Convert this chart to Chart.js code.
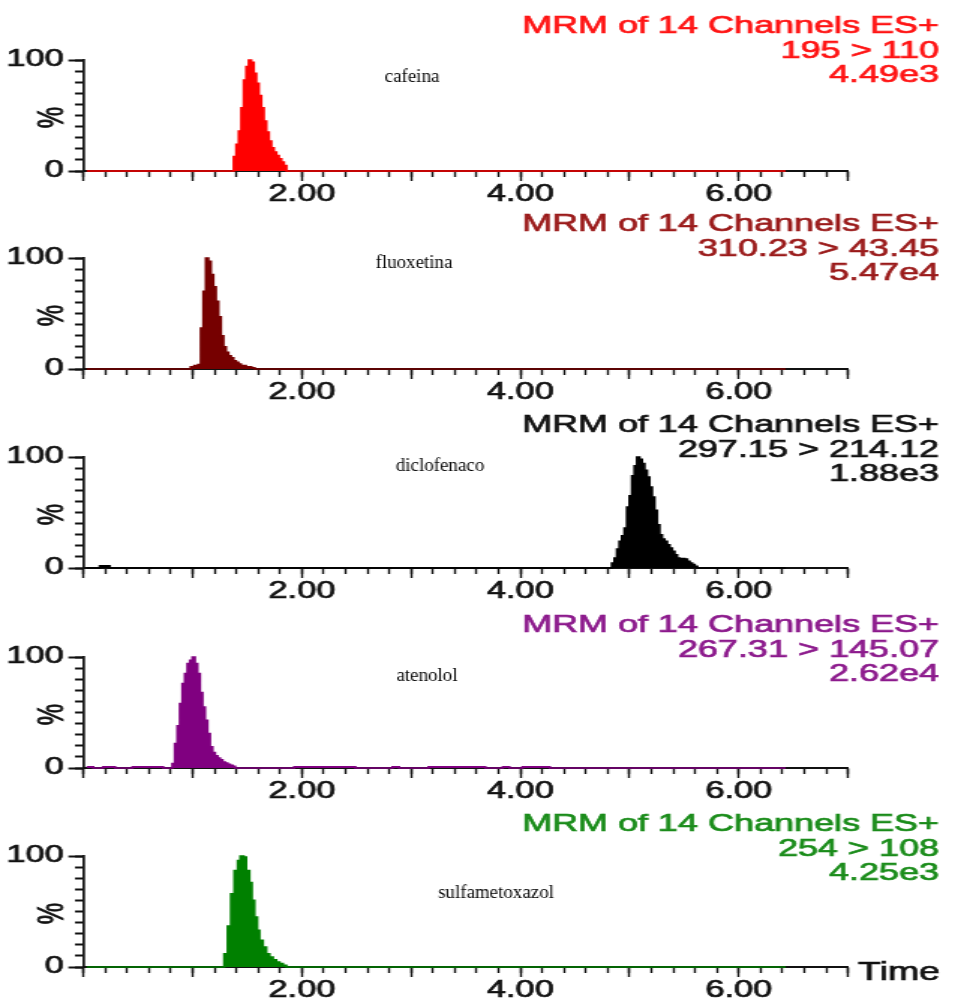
<!DOCTYPE html>
<html>
<head>
<meta charset="utf-8">
<script src="https://cdn.jsdelivr.net/npm/chart.js@4/dist/chart.umd.min.js"></script>
<style>
  body { margin: 0; background: #fff; }
  #wrap { position: relative; width: 955px; height: 1001px; overflow: hidden; }
  #wrap canvas { position: absolute; left: 0; }
</style>
</head>
<body>
<div id="wrap">
  <canvas id="c0"></canvas>
  <canvas id="c1"></canvas>
  <canvas id="c2"></canvas>
  <canvas id="c3"></canvas>
  <canvas id="c4"></canvas>
</div>
<script>
// chromatogram is horizontally stretched in the original, so draw narrow and stretch with css
const CSS_W = 955;
const BUF_W = 637;
const S = CSS_W / BUF_W;

const headerText = 'MRM of 14 Channels ES+';
const compounds = ['cafeina', 'fluoxetina', 'diclofenaco', 'atenolol', 'sulfametoxazol'];
const transitions = ['195 > 110', '310.23 > 43.45', '297.15 > 214.12', '267.31 > 145.07', '254 > 108'];
const intensities = ['4.49e3', '5.47e4', '1.88e3', '2.62e4', '4.25e3'];
const xTickLabels = [2, 4, 6];
const yTickLabels = [0, 100];

// time (min) / % values, stepped
const cafeinaTime = [0.03, 1.376, 1.399, 1.422, 1.445, 1.468, 1.491, 1.514, 1.537, 1.560, 1.583, 1.606, 1.629, 1.652, 1.675, 1.698, 1.721, 1.744, 1.767, 1.790, 1.813, 1.836, 1.859, 6.43];
const cafeinaPct  = [0, 13, 24, 36, 57, 82, 94, 100, 98, 88, 79, 68, 57, 45, 35, 27, 21, 17, 14, 11, 8, 5, 0, 0];

const fluoxetinaTime = [0.03, 0.982, 1.015, 1.050, 1.075, 1.098, 1.121, 1.144, 1.167, 1.190, 1.213, 1.236, 1.259, 1.282, 1.305, 1.328, 1.351, 1.374, 1.397, 1.420, 1.443, 1.488, 1.538, 1.568, 6.43];
const fluoxetinaPct  = [0, 2, 3, 4, 37, 70, 100, 97, 85, 74, 61, 47, 30, 20, 15, 12, 10, 7.5, 6, 4.5, 3, 2, 1, 0, 0];

const diclofenacoTime = [0.03, 0.15, 0.24, 4.838, 4.861, 4.884, 4.907, 4.930, 4.953, 4.976, 4.999, 5.022, 5.045, 5.068, 5.091, 5.114, 5.137, 5.160, 5.183, 5.206, 5.229, 5.252, 5.275, 5.298, 5.321, 5.344, 5.367, 5.390, 5.413, 5.436, 5.459, 5.482, 5.505, 5.528, 5.551, 5.574, 5.597, 5.620, 6.43];
const diclofenacoPct  = [0, 2, 0, 4.5, 9, 17, 24, 29, 36, 55, 65, 83, 92, 100, 98, 94, 88, 82, 73, 64, 52, 39, 30, 26, 24, 21, 18, 15, 12, 9, 8.5, 8.5, 8, 6, 4.5, 3, 1.5, 0, 0];

const atenololTime = [0.03, 0.09, 0.18, 0.29, 0.45, 0.73, 0.814, 0.837, 0.860, 0.883, 0.906, 0.929, 0.952, 0.975, 0.998, 1.021, 1.044, 1.067, 1.090, 1.113, 1.136, 1.159, 1.182, 1.205, 1.228, 1.251, 1.274, 1.297, 1.320, 1.343, 1.366, 1.389, 1.93, 2.49, 2.83, 2.89, 3.16, 3.68, 3.84, 3.90, 4.02, 4.27, 6.43];
const atenololPct  = [1, 0, 1, 0, 1, 0, 4, 22, 38, 58, 76, 85, 94, 97, 100, 94, 85, 68, 55, 43, 31, 19, 14, 11, 9, 7.5, 5.4, 4.5, 3.3, 2.4, 1.5, 0, 1, 0, 1, 0, 1, 0, 1, 0, 1, 0, 0];

const sulfaTime = [0.03, 1.289, 1.321, 1.351, 1.382, 1.413, 1.437, 1.468, 1.490, 1.520, 1.542, 1.566, 1.591, 1.612, 1.643, 1.674, 1.704, 1.735, 1.766, 1.796, 1.827, 1.858, 6.43];
const sulfaPct  = [0, 12, 37, 66, 87, 96, 100, 99, 87, 76, 60, 45, 33, 24, 18, 12, 9, 6.5, 4.5, 3, 1.5, 0, 0];

const seriesTimes = [cafeinaTime, fluoxetinaTime, diclofenacoTime, atenololTime, sulfaTime];
const seriesPcts = [cafeinaPct, fluoxetinaPct, diclofenacoPct, atenololPct, sulfaPct];
const fillColors = ['#ff0000', '#760000', '#000000', '#800080', '#008000'];
const textColors = ['#ff1414', '#9a1a1a', '#111111', '#8c1a8c', '#1a8c1a'];

// panel placement (css px)
const panelTops = [0, 198, 397, 597, 796];
const panelHeights = [210, 210, 210, 210, 205];
const nameX = [412, 414, 440, 427, 496];
const nameY = [77, 65, 69, 79, 97];
const headerY = [[33, 58, 82], [33, 58, 82], [35, 60, 84], [35, 60, 84], [35, 60, 84]];

const PLOT_TOP = 60, PLOT_BOTTOM = 171;
const LEFT = 83.4 / S, RIGHT = 848 / S;
const AX = '#111';
const sansFont = '"Liberation Sans", Arial, sans-serif';

// fill + thin stroke, the original lettering is a bit heavier
function heavyText(ctx, txt, x, y, color) {
    ctx.fillStyle = color;
    ctx.strokeStyle = color;
    ctx.lineWidth = 0.7;
    ctx.fillText(txt, x, y);
    ctx.strokeText(txt, x, y);
}

const panelText = {
    id: 'panelText',
    afterDraw(chart, args, opts) {
        const ctx = chart.ctx;
        const i = opts.index;
        ctx.save();
        ctx.font = '24px ' + sansFont;
        ctx.textAlign = 'right';
        ctx.textBaseline = 'alphabetic';
        const lines = [headerText, transitions[i], intensities[i]];
        for (let k = 0; k < lines.length; k++) {
            heavyText(ctx, lines[k], 939 / S, headerY[i][k], textColors[i]);
        }
        ctx.restore();

        // % axis label
        ctx.save();
        const a = chart.chartArea;
        ctx.translate(35, (a.top + a.bottom) / 2 + 2);
        ctx.rotate(-Math.PI / 2);
        ctx.font = '24px ' + sansFont;
        ctx.textAlign = 'center';
        ctx.textBaseline = 'middle';
        heavyText(ctx, '%', 0, 0, AX);
        ctx.restore();

        // compound name (not stretched in the original)
        ctx.save();
        ctx.translate(nameX[i] / S, nameY[i]);
        ctx.scale(1 / S, 1);
        ctx.fillStyle = '#000';
        ctx.font = '19px "Liberation Serif", "Times New Roman", serif';
        ctx.textAlign = 'center';
        ctx.textBaseline = 'middle';
        ctx.fillText(compounds[i], 0, 0);
        ctx.restore();

        if (i === 4) {
            ctx.save();
            ctx.font = '25px ' + sansFont;
            ctx.textAlign = 'left';
            ctx.textBaseline = 'alphabetic';
            heavyText(ctx, 'Time', 858 / S, 184, AX);
            ctx.restore();
        }
    }
};

function makePanel(i) {
    const canvas = document.getElementById('c' + i);
    const h = panelHeights[i];
    canvas.width = BUF_W;
    canvas.height = h;
    canvas.style.width = CSS_W + 'px';
    canvas.style.height = h + 'px';
    canvas.style.top = panelTops[i] + 'px';

    const points = [];
    for (let k = 0; k < seriesTimes[i].length; k++) {
        points.push({ x: seriesTimes[i][k], y: seriesPcts[i][k] });
    }

    return new Chart(canvas, {
        type: 'line',
        data: {
            datasets: [{
                data: points,
                stepped: true,
                fill: 'origin',
                borderColor: fillColors[i],
                backgroundColor: fillColors[i],
                borderWidth: 1.6,
                pointRadius: 0,
                clip: false,
                xAxisID: 'x',
                yAxisID: 'y'
            }]
        },
        options: {
            responsive: false,
            animation: false,
            devicePixelRatio: 1,
            events: [],
            layout: { padding: { top: PLOT_TOP, left: 0, right: BUF_W - RIGHT, bottom: 0 } },
            plugins: {
                legend: { display: false },
                tooltip: { enabled: false },
                panelText: { index: i }
            },
            scales: {
                x: {
                    type: 'linear', position: 'bottom', min: 0, max: 7,
                    ticks: {
                        stepSize: 1, autoSkip: false, maxRotation: 0, padding: 0,
                        color: AX, font: { family: sansFont, size: 23 },
                        textStrokeColor: AX, textStrokeWidth: 0.7,
                        callback: v => xTickLabels.some(l => Math.abs(l - v) < 1e-6) ? v.toFixed(2) : ''
                    },
                    grid: { drawOnChartArea: false, tickLength: 10, tickWidth: 1.4, tickColor: AX },
                    border: { color: AX, width: 2 },
                    afterFit: s => { s.height = h - PLOT_BOTTOM; }
                },
                xMinor: {
                    type: 'linear', axis: 'x', position: { y: 0 }, min: 0, max: 7,
                    ticks: { stepSize: 0.2, autoSkip: false, display: false },
                    grid: { drawOnChartArea: false, tickLength: 6, tickWidth: 1.4, tickColor: AX },
                    border: { display: false }
                },
                y: {
                    type: 'linear', position: 'left', min: 0, max: 100,
                    ticks: {
                        stepSize: 100, padding: 3, color: AX,
                        font: { family: sansFont, size: 23 },
                        textStrokeColor: AX, textStrokeWidth: 0.7,
                        callback: v => yTickLabels.includes(v) ? String(v) : ''
                    },
                    grid: { drawOnChartArea: false, tickLength: 10, tickWidth: 2, tickColor: AX },
                    border: { color: AX, width: 1.7 },
                    afterFit: s => { s.width = LEFT; }
                },
                yMinor: {
                    type: 'linear', axis: 'y', position: { x: 0 }, min: 0, max: 100,
                    ticks: { stepSize: 10, display: false },
                    grid: { drawOnChartArea: false, tickLength: 6, tickWidth: 2, tickColor: AX },
                    border: { display: false }
                }
            }
        },
        plugins: [panelText]
    });
}

for (let i = 0; i < 5; i++) makePanel(i);
</script>
</body>
</html>
